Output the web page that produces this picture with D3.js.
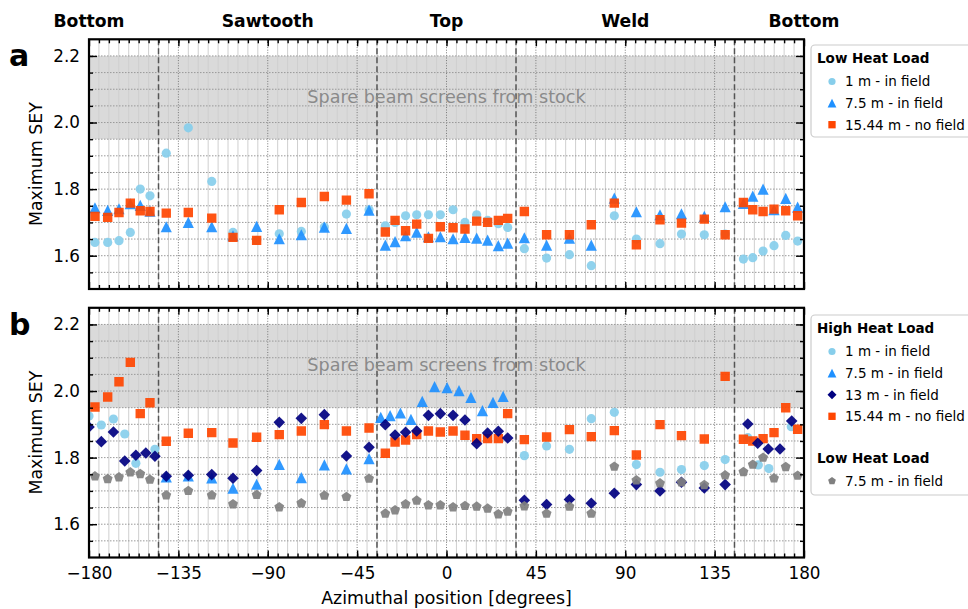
<!DOCTYPE html>
<html><head><meta charset="utf-8">
<script src="https://cdn.jsdelivr.net/npm/d3@7"></script>
<style>
body{margin:0;background:#fff}
svg{display:block;font-family:"DejaVu Sans",sans-serif}
</style>
</head><body>
<svg id="chart" width="968" height="609"></svg>
<script>
// Measurement positions (degrees) shared by most series
const anglesMain = [-177,-170.6,-164.9,-159.2,-154.2,-149.3,-141.1,-130,-118.2,-107.5,-95.6,-84.2,-73.1,-61.5,-50.4,-39,
  -30.8,-25.9,-20.6,-15,-9.1,-3.1,3.3,9.3,15.2,20.7,26.1,30.8,
  39.2,50.4,61.9,72.9,84.5,95.6,107.5,118.3,129.8,140.3,149.5,154.2,159.4,164.9,170.8,176.8];

// Low heat load series
const lhl1m = [1.64,1.64,1.645,1.67,1.80,1.78,1.908,1.984,1.823,1.67,1.646,1.666,1.673,1.686,1.725,1.738,
  1.69,1.70,1.72,1.723,1.723,1.723,1.738,1.70,1.723,1.706,1.696,1.685,
  1.621,1.593,1.603,1.57,1.72,1.65,1.636,1.665,1.663,1.665,1.59,1.594,1.614,1.63,1.661,1.644];
const lhl75 = [1.744,1.736,1.741,1.756,1.751,1.734,1.687,1.70,1.687,1.66,1.688,1.651,1.663,1.686,1.682,1.737,
  1.632,1.642,1.66,1.671,1.657,1.657,1.651,1.655,1.653,1.647,1.63,1.638,
  1.654,1.632,1.653,1.632,1.773,1.732,1.723,1.726,1.718,1.747,1.757,1.779,1.80,1.738,1.772,1.746];
const lhl1544 = [1.718,1.715,1.73,1.758,1.735,1.733,1.728,1.73,1.713,1.655,1.646,1.738,1.76,1.778,1.767,1.786,
  1.671,1.706,1.675,1.695,1.652,1.687,1.684,1.68,1.704,1.70,1.706,1.712,
  1.733,1.663,1.663,1.693,1.758,1.633,1.708,1.698,1.71,1.663,1.76,1.738,1.733,1.74,1.735,1.72];

// High heat load series
const hhl1544 = [1.952,1.982,2.028,2.086,1.932,1.965,1.849,1.873,1.875,1.844,1.861,1.869,1.88,1.899,1.88,1.889,
  1.813,1.847,1.853,1.869,1.88,1.877,1.88,1.867,1.857,1.857,1.857,1.932,
  1.854,1.862,1.884,1.863,1.881,1.808,1.899,1.866,1.856,2.044,1.855,1.85,1.857,1.875,1.95,1.885];

const hhl13Angles = [-180,-173.8,-167.7,-162,-156.4,-151.4,-146.8,-141.1,-130,-118.2,-107.5,-95.6,-84.2,-73.1,-61.5,-50.4,-39,
  -30.8,-25.9,-20.6,-15,-9.1,-3.1,3.3,9.3,15.2,20.7,26.1,30.8,
  39.2,50.4,61.9,72.9,84.5,95.6,107.5,118.3,129.8,140.3,151.7,156.7,162,167.9,173.8];
const hhl13 = [1.892,1.848,1.877,1.79,1.807,1.814,1.804,1.744,1.747,1.749,1.738,1.761,1.906,1.918,1.929,1.805,1.831,
  1.899,1.868,1.876,1.88,1.927,1.932,1.927,1.913,1.842,1.874,1.879,1.859,
  1.672,1.659,1.674,1.663,1.693,1.719,1.70,1.726,1.709,1.719,1.901,1.843,1.826,1.826,1.91];

const hhl1mAngles = [-180,-173.8,-167.7,-162,-156.4,-146.8,39.2,50.4,61.9,72.9,84.5,95.6,107.5,118.3,129.8,140.3,151.7,157,162.3,173.6];
const hhl1m = [1.925,1.898,1.916,1.871,1.783,1.825,1.806,1.835,1.825,1.917,1.936,1.779,1.756,1.764,1.776,1.794,1.86,1.778,1.767,1.893];

const hhl75Angles = [-141.1,-130,-118.2,-107.5,-95.6,-84.2,-73.1,-61.5,-50.4,-39,
  -33.1,-28.4,-23.2,-17.9,-12.2,-6.0,0.3,6.3,12.3,18.1,23.4,28.5];
const hhl75 = [1.742,1.745,1.739,1.708,1.72,1.78,1.74,1.778,1.766,1.797,
  1.921,1.926,1.934,1.915,1.969,2.013,2.01,2.001,1.981,1.941,1.966,1.984];

// Axis ticks, regions and annotations
const xTicks = [-180,-135,-90,-45,0,45,90,135,180];
const yTicks = [1.6,1.8,2.0,2.2];
const regionNames = ["Bottom","Sawtooth","Top","Weld","Bottom"];
const regionCenters = [-180,-90,0,90,180];
const regionBounds = [-145,-35,35,145];
const spareBand = [1.95,2.2];
const spareLabel = "Spare beam screens from stock";

const COLORS = {sky:"#87CEEB", dodger:"#1E90FF", orange:"#FF4500", navy:"#000080", gray:"#808080"};

// Marker path generators
const shapes = {
  circle: s => { const r = 4.6*s; return `M${r},0A${r},${r} 0 1,1 ${-r},0A${r},${r} 0 1,1 ${r},0Z`; },
  triangle: s => { const h = 5.6*s; return `M0,${-h}L${-h},${h}L${h},${h}Z`; },
  square: s => { const a = 4.7*s; return `M${-a},${-a}H${a}V${a}H${-a}Z`; },
  diamond: s => { const a = 5.8*s; return `M0,${-a}L${a},0L0,${a}L${-a},0Z`; },
  pentagon: s => {
    const r = 5.2*s;
    return d3.range(5).map((k,i) => {
      const t = (-90 + 72*k) * Math.PI/180;
      return (i ? "L" : "M") + (r*Math.cos(t)).toFixed(2) + "," + (r*Math.sin(t)).toFixed(2);
    }).join("") + "Z";
  }
};

const svg = d3.select("#chart");
const x = d3.scaleLinear().domain([-180,180]).range([89,804]);

const panels = [
  {
    letter: "a", top: 39.3, bottom: 289,
    legend: {x: 811, y: 45, h: 92},
    groups: [
      {title: "Low Heat Load", series: [
        {label: "1 m - in field", shape: "circle", color: COLORS.sky, angles: anglesMain, values: lhl1m},
        {label: "7.5 m - in field", shape: "triangle", color: COLORS.dodger, angles: anglesMain, values: lhl75},
        {label: "15.44 m - no field", shape: "square", color: COLORS.orange, angles: anglesMain, values: lhl1544}
      ]}
    ]
  },
  {
    letter: "b", top: 307.8, bottom: 557.5,
    legend: {x: 811, y: 315, h: 180},
    groups: [
      {title: "High Heat Load", series: [
        {label: "1 m - in field", shape: "circle", color: COLORS.sky, angles: hhl1mAngles, values: hhl1m},
        {label: "7.5 m - in field", shape: "triangle", color: COLORS.dodger, angles: hhl75Angles, values: hhl75},
        {label: "13 m - in field", shape: "diamond", color: COLORS.navy, angles: hhl13Angles, values: hhl13},
        {label: "15.44 m - no field", shape: "square", color: COLORS.orange, angles: anglesMain, values: hhl1544}
      ]},
      {title: "Low Heat Load", series: [
        {label: "7.5 m - in field", shape: "pentagon", color: COLORS.gray, angles: anglesMain, values: lhl75}
      ]}
    ]
  }
];

// Region names across the top
svg.append("g").selectAll("text").data(regionNames).join("text")
  .attr("x", (d,i) => x(regionCenters[i]))
  .attr("y", 27)
  .attr("text-anchor", "middle")
  .attr("font-size", 17.2).attr("font-weight", "bold")
  .text(d => d);

panels.forEach((p, pi) => {
  const y = d3.scaleLinear().domain([1.5,2.25]).range([p.bottom, p.top]);
  const g = svg.append("g");
  const clipId = "clip" + pi;
  g.append("clipPath").attr("id", clipId).append("rect")
    .attr("x", x(-180)).attr("y", p.top).attr("width", x(180)-x(-180)).attr("height", p.bottom-p.top);

  // shaded band
  g.append("rect")
    .attr("x", x(-180)).attr("width", x(180)-x(-180))
    .attr("y", y(spareBand[1])).attr("height", y(spareBand[0]) - y(spareBand[1]))
    .attr("fill", "#dadada");

  // minor vertical grid
  const xMinor = d3.range(-175, 180, 5).filter(d => d % 45 !== 0);
  g.append("g").selectAll("line").data(xMinor).join("line")
    .attr("x1", d => x(d)).attr("x2", d => x(d)).attr("y1", p.top).attr("y2", p.bottom)
    .attr("stroke", "#cfcfcf").attr("stroke-width", 1);
  // major vertical grid
  g.append("g").selectAll("line").data(xTicks.slice(1,-1)).join("line")
    .attr("x1", d => x(d)).attr("x2", d => x(d)).attr("y1", p.top).attr("y2", p.bottom)
    .attr("stroke", "#777").attr("stroke-width", 1).attr("stroke-dasharray", "1,1.6");
  // horizontal grid
  const yGrid = d3.range(31, 45).map(k => +(k*0.05).toFixed(2));
  g.append("g").selectAll("line").data(yGrid).join("line")
    .attr("x1", x(-180)).attr("x2", x(180)).attr("y1", d => y(d)).attr("y2", d => y(d))
    .attr("stroke", "#999").attr("stroke-width", 1).attr("stroke-dasharray", "1.5,1.5");

  // region boundaries
  g.append("g").selectAll("line").data(regionBounds).join("line")
    .attr("x1", d => x(d)).attr("x2", d => x(d)).attr("y1", p.top).attr("y2", p.bottom)
    .attr("stroke", "#555").attr("stroke-width", 1.5).attr("stroke-dasharray", "6,3");

  // band annotation
  g.append("text")
    .attr("x", x(0)).attr("y", y(2.2) + 47)
    .attr("text-anchor", "middle").attr("font-size", 17.6).attr("fill", "#8a8a8a")
    .text(spareLabel);

  // data markers
  const markers = g.append("g").attr("clip-path", `url(#${clipId})`);
  const allSeries = p.groups.flatMap(gr => gr.series);
  const order = ["circle","triangle","square","diamond","pentagon"];
  order.forEach(shape => {
    allSeries.filter(s => s.shape === shape).forEach(s => {
      markers.append("g").selectAll("path").data(s.values).join("path")
        .attr("d", shapes[s.shape](1))
        .attr("transform", (v,i) => `translate(${x(s.angles[i])},${y(v)})`)
        .attr("fill", s.color).attr("fill-opacity", 0.92);
    });
  });

  // axes (ticks point inward on all four sides)
  const xMinorTicks = d3.range(-175, 180, 5);
  const tickStyle = sel => {
    sel.select(".domain").remove();
    sel.selectAll(".tick line").attr("stroke", "#000").attr("stroke-width", 1.4);
  };
  g.append("g").attr("transform", `translate(0,${p.bottom})`)
    .call(d3.axisBottom(x).tickValues(xMinorTicks).tickSize(-4).tickFormat("")).call(tickStyle);
  g.append("g").attr("transform", `translate(0,${p.top})`)
    .call(d3.axisTop(x).tickValues(xMinorTicks).tickSize(-4).tickFormat("")).call(tickStyle);
  const bottomAxis = g.append("g").attr("transform", `translate(0,${p.bottom})`)
    .call(d3.axisBottom(x).tickValues(xTicks).tickSize(-7).tickPadding(9.5)
      .tickFormat(pi === 1 ? d3.format("d") : "")).call(tickStyle);
  bottomAxis.selectAll("text").attr("font-size", 16.8).attr("fill", "#000").attr("font-family", "DejaVu Sans");
  g.append("g").attr("transform", `translate(0,${p.top})`)
    .call(d3.axisTop(x).tickValues(xTicks).tickSize(-7).tickFormat("")).call(tickStyle);

  const yMinorTicks = d3.range(31, 45).map(k => +(k*0.05).toFixed(2));
  g.append("g").attr("transform", `translate(${x(-180)},0)`)
    .call(d3.axisLeft(y).tickValues(yMinorTicks).tickSize(-4).tickFormat("")).call(tickStyle);
  g.append("g").attr("transform", `translate(${x(180)},0)`)
    .call(d3.axisRight(y).tickValues(yMinorTicks).tickSize(-4).tickFormat("")).call(tickStyle);
  const leftAxis = g.append("g").attr("transform", `translate(${x(-180)},0)`)
    .call(d3.axisLeft(y).tickValues(yTicks).tickSize(-8).tickPadding(9).tickFormat(d3.format(".1f"))).call(tickStyle);
  leftAxis.selectAll("text").attr("font-size", 16.8).attr("fill", "#000").attr("font-family", "DejaVu Sans");
  g.append("g").attr("transform", `translate(${x(180)},0)`)
    .call(d3.axisRight(y).tickValues(yTicks).tickSize(-8).tickFormat("")).call(tickStyle);

  // frame
  g.append("rect")
    .attr("x", x(-180)).attr("y", p.top).attr("width", x(180)-x(-180)).attr("height", p.bottom-p.top)
    .attr("fill", "none").attr("stroke", "#000").attr("stroke-width", 2.2);

  // y title and panel letter
  g.append("text")
    .attr("transform", `translate(41.5,${(p.top+p.bottom)/2}) rotate(-90)`)
    .attr("text-anchor", "middle").attr("font-size", 17.4)
    .text("Maximum SEY");
  g.append("text")
    .attr("x", 9).attr("y", p.top + 27)
    .attr("font-size", 30).attr("font-weight", "bold")
    .text(p.letter);

  // legend
  const L = p.legend;
  const lg = g.append("g");
  lg.append("rect").attr("x", L.x).attr("y", L.y).attr("width", 170).attr("height", L.h)
    .attr("rx", 4).attr("fill", "#fff").attr("fill-opacity", 0.85)
    .attr("stroke", "#cccccc").attr("stroke-width", 1.2);
  const rowGap = 21.6;
  let cy = L.y + 13.5;            // vertical centre of the current row
  p.groups.forEach((gr, gi) => {
    if (gi > 0) cy += rowGap * 2 - 1.5;
    lg.append("text").attr("x", L.x + 6).attr("y", cy).attr("dy", "0.36em")
      .attr("font-size", 13.5).attr("font-weight", "bold").text(gr.title);
    cy += 23;
    gr.series.forEach((s, si) => {
      if (si > 0) cy += rowGap;
      lg.append("path").attr("d", shapes[s.shape](0.78))
        .attr("transform", `translate(${L.x + 21},${cy})`).attr("fill", s.color);
      lg.append("text").attr("x", L.x + 34).attr("y", cy).attr("dy", "0.36em")
        .attr("font-size", 13.5).text(s.label);
    });
  });
});

// x title
svg.append("text")
  .attr("x", x(0)).attr("y", 604)
  .attr("text-anchor", "middle").attr("font-size", 17.4)
  .text("Azimuthal position [degrees]");
</script>
</body></html>
